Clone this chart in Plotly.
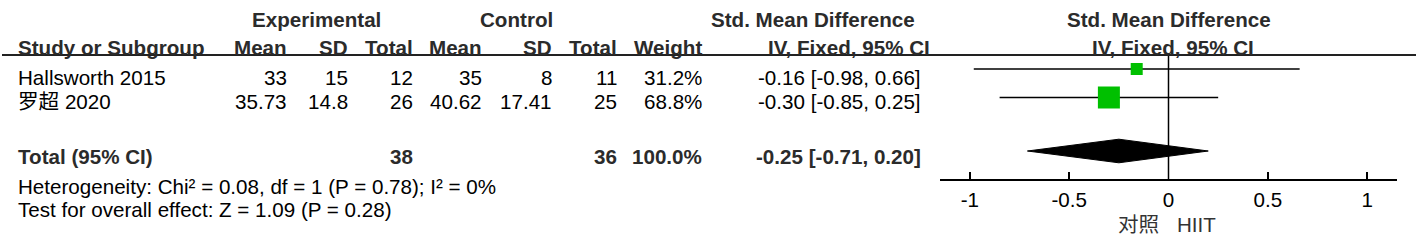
import plotly.graph_objects as go

# ---------------- data ----------------
studies = ["Hallsworth 2015", "罗超 2020"]
exp_mean = [33, 35.73]
exp_sd = [15, 14.8]
exp_n = [12, 26]
ctl_mean = [35, 40.62]
ctl_sd = [8, 17.41]
ctl_n = [11, 25]
weights = [31.2, 68.8]
smd = [-0.16, -0.30]
ci_lo = [-0.98, -0.85]
ci_hi = [0.66, 0.25]

total_exp_n = 38
total_ctl_n = 36
total_weight = 100.0
total_smd = -0.25
total_lo = -0.71
total_hi = 0.20

heterogeneity = "Heterogeneity: Chi² = 0.08, df = 1 (P = 0.78); I² = 0%"
overall = "Test for overall effect: Z = 1.09 (P = 0.28)"
tick_vals = [-1, -0.5, 0, 0.5, 1]
tick_text = ["-1", "-0.5", "0", "0.5", "1"]
favours_left = "对照"
favours_right = "HIIT"

# ---------------- layout constants (pixels) ----------------
W, H = 1416, 247
FONT = "Liberation Sans, Arial, Noto Sans CJK SC, sans-serif"
FS = 20.6
TXT = "#000000"
HDR = "#2b2b2b"
GREEN = "#00c000"

row_text_y = [77, 101]      # text centres
row_mark_y = [69, 97.5]     # forest marks
total_text_y = 156
total_mark_y = 151
header1_y = 19
header2_y = 47.5
header_line_y = 55
axis_y = 179
het_y = 186.5
test_y = 209.5
fav_y = 224.5
marker_sizes = [12, 22]
diamond_half = 11.8

col_right = {"em": 287, "esd": 348, "en": 413, "cm": 482, "csd": 552,
             "cn": 617, "w": 702, "ci": 921}
study_left = 18

fig = go.Figure()

# CI lines
for i in range(len(studies)):
    fig.add_trace(go.Scatter(x=[ci_lo[i], ci_hi[i]], y=[row_mark_y[i]] * 2,
                             mode="lines", line=dict(color="black", width=1.5),
                             hoverinfo="skip", showlegend=False))
# squares
fig.add_trace(go.Scatter(x=smd, y=row_mark_y, mode="markers",
                         marker=dict(symbol="square", size=marker_sizes, color=GREEN,
                                     opacity=1, line=dict(width=0)),
                         showlegend=False))
# diamond
fig.add_trace(go.Scatter(
    x=[total_lo, total_smd, total_hi, total_smd, total_lo],
    y=[total_mark_y, total_mark_y - diamond_half, total_mark_y,
       total_mark_y + diamond_half, total_mark_y],
    mode="lines", fill="toself", fillcolor="black",
    line=dict(color="black", width=1), showlegend=False))

fig.update_layout(
    width=W, height=H, margin=dict(l=0, r=0, t=0, b=0),
    paper_bgcolor="white", plot_bgcolor="rgba(0,0,0,0)",
    font=dict(family=FONT, size=FS, color=TXT),
    xaxis=dict(domain=[940 / W, 1397 / W], range=[-1.15, 1.15],
               anchor="free", position=(H - axis_y) / H,
               showline=True, linecolor="black", linewidth=1.5,
               ticks="inside", ticklen=7, tickwidth=1.5, tickcolor="black",
               tickvals=tick_vals, ticktext=tick_text,
               tickfont=dict(size=FS, color=TXT), ticklabelstandoff=2,
               showgrid=False, zeroline=False, fixedrange=True),
    yaxis=dict(domain=[0, 1], range=[H, 0], visible=False,
               anchor="free", position=0, fixedrange=True),
)

# zero line & header line
fig.add_shape(type="line", xref="x", yref="y", x0=0, x1=0,
              y0=header_line_y, y1=axis_y, line=dict(color="black", width=1.5))
fig.add_shape(type="line", xref="paper", yref="y", x0=2 / W, x1=1,
              y0=header_line_y, y1=header_line_y, line=dict(color="#222", width=2))


def txt(x, y, s, anchor="right", bold=False, color=None):
    fig.add_annotation(x=x / W, y=y, xref="paper", yref="y", text=s,
                       showarrow=False, xanchor=anchor, yanchor="middle",
                       borderpad=0, borderwidth=0,
                       font=dict(family=FONT, size=FS,
                                 color=color or (HDR if bold else TXT),
                                 weight="bold" if bold else "normal"))


def fmt(v):
    return f"{v:g}"


# headers
txt(316.7, header1_y, "Experimental", "center", True)
txt(516, header1_y, "Control", "center", True)
txt(813, header1_y, "Std. Mean Difference", "center", True)
txt(1169, header1_y, "Std. Mean Difference", "center", True)
txt(study_left, header2_y, "Study or Subgroup", "left", True)
txt(col_right["em"], header2_y, "Mean", bold=True)
txt(col_right["esd"], header2_y, "SD", bold=True)
txt(col_right["en"], header2_y, "Total", bold=True)
txt(col_right["cm"], header2_y, "Mean", bold=True)
txt(col_right["csd"], header2_y, "SD", bold=True)
txt(col_right["cn"], header2_y, "Total", bold=True)
txt(col_right["w"], header2_y, "Weight", bold=True)
txt(849, header2_y, "IV, Fixed, 95% CI", "center", True)
txt(1173, header2_y, "IV, Fixed, 95% CI", "center", True)

# study rows
for i, s in enumerate(studies):
    y = row_text_y[i]
    txt(study_left, y, s, "left")
    txt(col_right["em"], y, fmt(exp_mean[i]))
    txt(col_right["esd"], y, fmt(exp_sd[i]))
    txt(col_right["en"], y, fmt(exp_n[i]))
    txt(col_right["cm"], y, fmt(ctl_mean[i]))
    txt(col_right["csd"], y, fmt(ctl_sd[i]))
    txt(col_right["cn"], y, fmt(ctl_n[i]))
    txt(col_right["w"], y, f"{weights[i]:.1f}%")
    txt(col_right["ci"], y, f"{smd[i]:.2f} [{ci_lo[i]:.2f}, {ci_hi[i]:.2f}]")

# total row
txt(study_left, total_text_y, "Total (95% CI)", "left", True)
txt(col_right["en"], total_text_y, fmt(total_exp_n), bold=True)
txt(col_right["cn"], total_text_y, fmt(total_ctl_n), bold=True)
txt(col_right["w"], total_text_y, f"{total_weight:.1f}%", bold=True)
txt(col_right["ci"], total_text_y,
    f"{total_smd:.2f} [{total_lo:.2f}, {total_hi:.2f}]", bold=True)

txt(study_left, het_y, heterogeneity, "left")
txt(study_left, test_y, overall, "left")

# favours labels
fig.add_annotation(x=-0.05, y=fav_y, xref="x", yref="y", text=favours_left,
                   showarrow=False, xanchor="right", yanchor="middle",
                   borderpad=0, borderwidth=0,
                   font=dict(family=FONT, size=FS, color="#333"))
fig.add_annotation(x=0.045, y=fav_y, xref="x", yref="y", text=favours_right,
                   showarrow=False, xanchor="left", yanchor="middle",
                   borderpad=0, borderwidth=0,
                   font=dict(family=FONT, size=FS, color="#333"))

fig.write_html("out.html", config={"displayModeBar": False, "staticPlot": True},
               post_script="document.body.style.margin='0';"
                           "document.body.style.overflow='hidden';")
